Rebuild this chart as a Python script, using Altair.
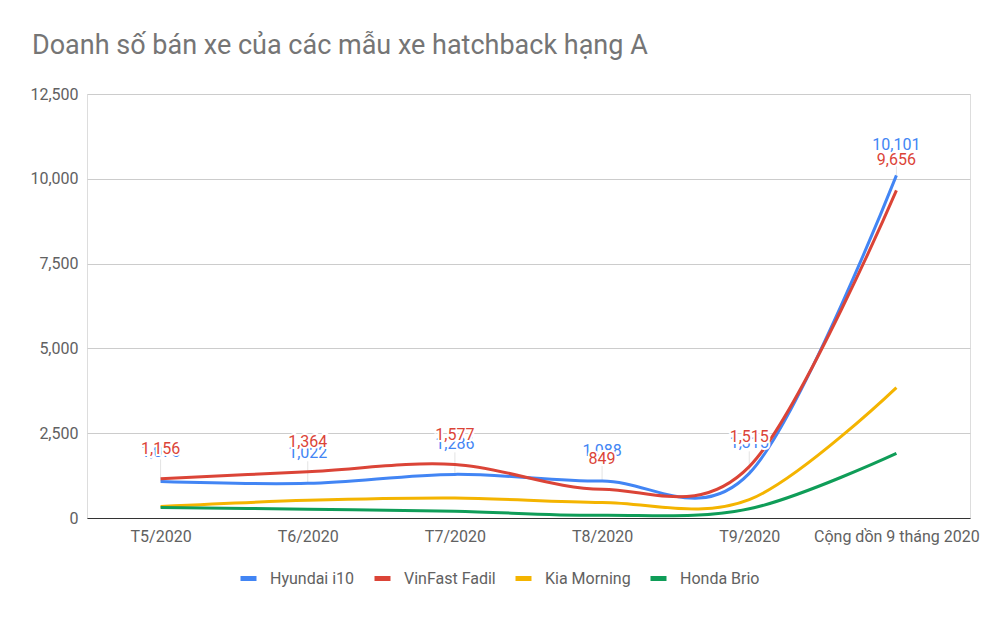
import altair as alt
import pandas as pd

categories = ["T5/2020", "T6/2020", "T7/2020", "T8/2020", "T9/2020", "Cộng dồn 9 tháng 2020"]
series = ["Hyundai i10", "VinFast Fadil", "Kia Morning", "Honda Brio"]
colors = ["#4285F4", "#DB4437", "#F4B400", "#0F9D58"]

hyundai = [1076, 1022, 1286, 1088, 1315, 10101]
vinfast = [1156, 1364, 1577, 849, 1515, 9656]
kia = [340, 520, 590, 460, 540, 3845]
honda = [310, 260, 200, 80, 270, 1905]

values = [hyundai, vinfast, kia, honda]
rows = []
for s, vals in zip(series, values):
    for i, (c, v) in enumerate(zip(categories, vals)):
        rows.append({"cat": c, "series": s, "value": v, "order": i})
df = pd.DataFrame(rows)

lead = pd.DataFrame({"cat": categories, "value": hyundai,
                     "y2": [v + 650 for v in hyundai]})

FONT = "Roboto"
xenc = alt.X("cat:N", sort=categories,
             scale=alt.Scale(type="point", padding=0.5),
             axis=alt.Axis(title=None, labelAngle=0, labelAlign="center", ticks=False, grid=False,
                           domainColor="#333333", domainWidth=1,
                           labelPadding=10, labelFontSize=16,
                           labelColor="#616161", labelFont=FONT))
yenc = alt.Y("value:Q", scale=alt.Scale(domain=[0, 12500], nice=False),
             axis=alt.Axis(title=None, values=[0, 2500, 5000, 7500, 10000, 12500],
                           format=",d", domain=False, ticks=False,
                           gridColor="#cccccc", labelPadding=9,
                           labelFontSize=16, labelColor="#616161", labelFont=FONT))

rules = alt.Chart(lead).mark_rule(color="#e3e3e3", strokeWidth=1).encode(
    x=xenc, y=yenc, y2="y2:Q",
)

lines = alt.Chart(df).mark_line(interpolate="cardinal", strokeWidth=3).encode(
    x=xenc,
    y=yenc,
    order="order:Q",
    color=alt.Color("series:N", sort=series,
                    scale=alt.Scale(domain=series, range=colors),
                    legend=alt.Legend(title=None, orient="none", direction="horizontal",
                                      legendX=151, legendY=474, gridAlign="none",
                                      symbolType="stroke", symbolStrokeWidth=5,
                                      symbolSize=256, labelFontSize=16,
                                      labelColor="#616161", labelFont=FONT,
                                      columnPadding=9, labelOffset=11)),
)

def label_layers(name, color):
    base = alt.Chart(df).transform_filter(alt.datum.series == name)
    halo = base.mark_text(dy=-30, fontSize=16, font=FONT, color="white",
                          stroke="white", strokeWidth=4).encode(
        x=xenc, y=yenc, text=alt.Text("value:Q", format=","))
    txt = base.mark_text(dy=-30, fontSize=16, font=FONT, color=color).encode(
        x=xenc, y=yenc, text=alt.Text("value:Q", format=","))
    return [halo, txt]

layers = [rules, lines] + label_layers("Hyundai i10", colors[0]) + label_layers("VinFast Fadil", colors[1])

chart = alt.layer(*layers).properties(
    width=883, height=424,
    title=alt.TitleParams("Doanh số bán xe của các mẫu xe hatchback hạng A",
                          anchor="start", font=FONT, fontSize=27, fontWeight="normal",
                          color="#757575", dx=-55, offset=5, frame="group",
                          baseline="alphabetic"),
    autosize="none",
    padding={"left": 79, "top": 86, "right": 22, "bottom": 92},
).configure_view(stroke=None).configure(font=FONT)

chart.save("out.html", embed_options={"renderer": "svg", "actions": False})
